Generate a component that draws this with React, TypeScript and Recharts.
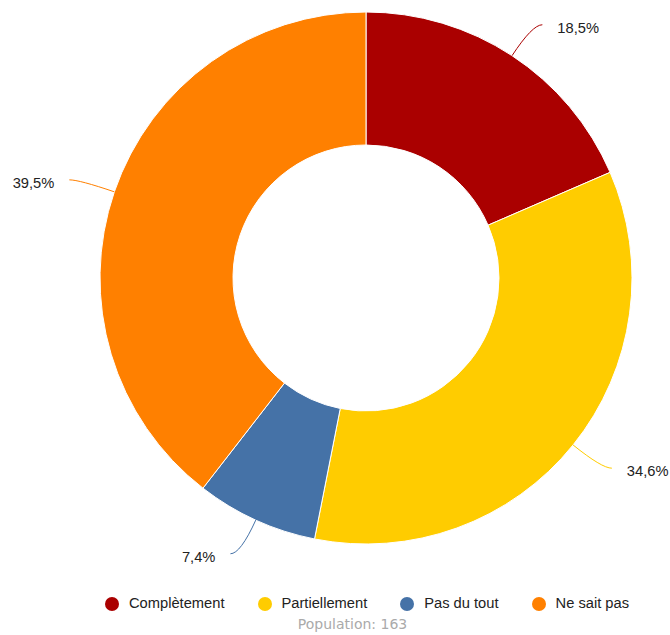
import { Legend, Pie, PieChart, Cell } from "recharts";

const categories = ["Complètement", "Partiellement", "Pas du tout", "Ne sait pas"];
const shares = [18.5, 34.6, 7.4, 39.5];
const colors = ["#AA0000", "#FFCC00", "#4572A7", "#FF8000"];
const population = 163;

const data = categories.map((name, i) => ({ name, value: shares[i] }));

const RAD = Math.PI / 180;

function renderLabel(props: any) {
  const { cx, cy, midAngle, outerRadius, index } = props;
  const cos = Math.cos(-midAngle * RAD);
  const sin = Math.sin(-midAngle * RAD);
  const sx = cx + outerRadius * cos;
  const sy = cy + outerRadius * sin;
  const mx = cx + (outerRadius + 37) * cos;
  const my = cy + (outerRadius + 37) * sin;
  const right = cos >= 0;
  const ex = mx + (right ? 10 : -10);
  const ey = my;
  const label = shares[index].toFixed(1).replace(".", ",") + "%";
  return (
    <g>
      <path
        d={`M${sx},${sy} Q${mx},${my} ${ex},${ey}`}
        stroke={colors[index]}
        fill="none"
        strokeWidth={1}
      />
      <text
        x={ex + (right ? 15 : -15)}
        y={ey + 3}
        textAnchor={right ? "start" : "end"}
        dominantBaseline="central"
        fill="#222"
        fontSize={14.7}
        fontFamily="'Liberation Sans', Arial, sans-serif"
      >
        {label}
      </text>
    </g>
  );
}

function LegendContent() {
  return (
    <div>
      <div
        style={{
          display: "flex",
          justifyContent: "center",
          gap: 33,
          paddingLeft: 64,
          fontSize: 14.7,
          lineHeight: "17px",
          color: "#222",
          fontFamily: "'Liberation Sans', Arial, sans-serif",
        }}
      >
        {categories.map((c, i) => (
          <div key={c} style={{ display: "flex", alignItems: "center" }}>
            <span
              style={{
                width: 14,
                height: 14,
                borderRadius: 7,
                background: colors[i],
                marginRight: 10,
                display: "inline-block",
              }}
            />
            <span>{c}</span>
          </div>
        ))}
      </div>
      <div
        style={{
          textAlign: "center",
          paddingLeft: 35,
          marginTop: 4,
          fontSize: 14,
          lineHeight: "17px",
          color: "#aaa",
          fontFamily: "'DejaVu Sans', sans-serif",
        }}
      >
        Population: {population}
      </div>
    </div>
  );
}

export default function App() {
  return (
    <div>
      <style>{`body{margin:0}`}</style>
      <PieChart width={670} height={635} margin={{ top: 0, right: 0, bottom: 0, left: 0 }}>
        <Pie
          data={data}
          dataKey="value"
          nameKey="name"
          cx={366}
          cy={278}
          innerRadius={133}
          outerRadius={266}
          startAngle={90}
          endAngle={-270}
          stroke="#fff"
          strokeWidth={1}
          label={renderLabel}
          labelLine={false}
          isAnimationActive={false}
        >
          {data.map((d, i) => (
            <Cell key={d.name} fill={colors[i]} />
          ))}
        </Pie>
        <Legend
          content={<LegendContent />}
          wrapperStyle={{ top: 595, left: 0, width: 670 }}
        />
      </PieChart>
    </div>
  );
}
